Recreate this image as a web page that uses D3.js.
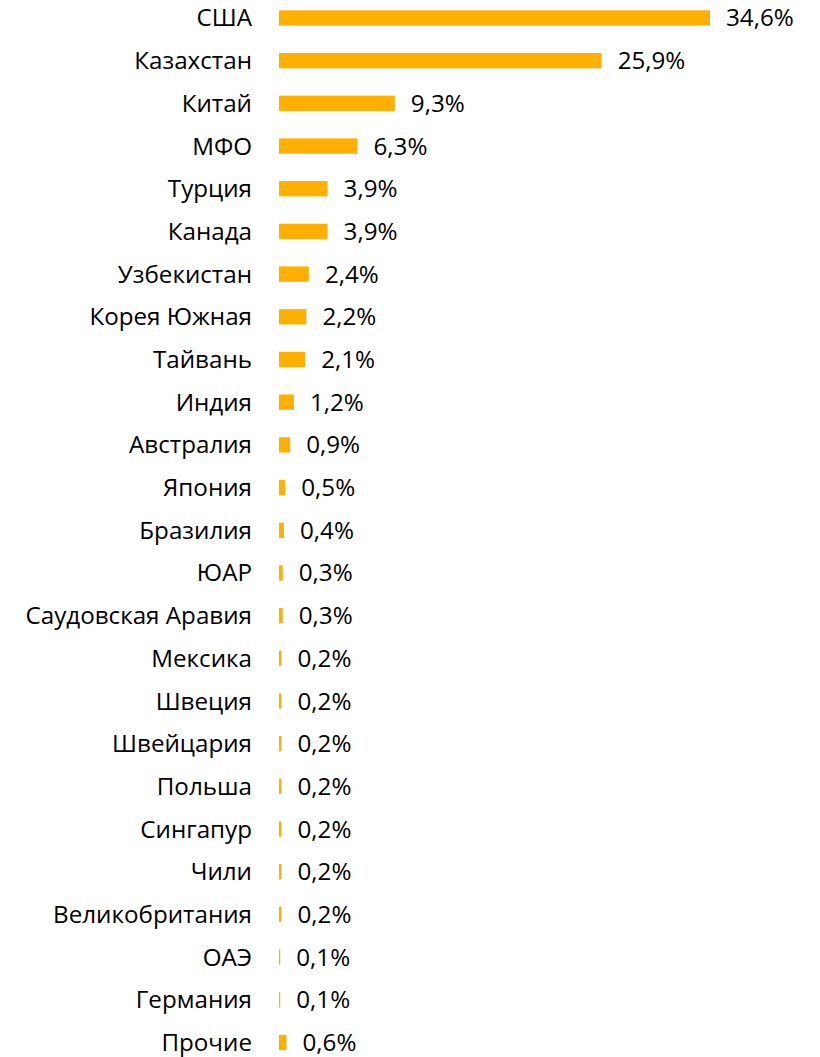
<!DOCTYPE html>
<html><head><meta charset="utf-8">
<script src="https://cdn.jsdelivr.net/npm/d3@7"></script>
<style>body{margin:0;background:#fff;} svg{display:block;}</style>
</head><body>
<script>
const categories = ["США","Казахстан","Китай","МФО","Турция","Канада","Узбекистан","Корея Южная","Тайвань","Индия","Австралия","Япония","Бразилия","ЮАР","Саудовская Аравия","Мексика","Швеция","Швейцария","Польша","Сингапур","Чили","Великобритания","ОАЭ","Германия","Прочие"];
const values = [34.6,25.9,9.3,6.3,3.9,3.9,2.4,2.2,2.1,1.2,0.9,0.5,0.4,0.3,0.3,0.2,0.2,0.2,0.2,0.2,0.2,0.2,0.1,0.1,0.6];
const labels = values.map(v => v.toFixed(1).replace(".", ",") + "%");

const W = 820, H = 1057;
const svg = d3.select("body").append("svg").attr("width", W).attr("height", H);
const y = d3.scaleBand().domain(categories).range([-3.35, 1063.85]).paddingInner(0.64).paddingOuter(0.32);
const x = d3.scaleLinear().domain([0, 34.6]).range([279, 710]);
const color = "#FFB000";
const font = "'Open Sans', sans-serif";
const fs = 24.2;

const data = categories.map((c, i) => ({c, v: values[i], l: labels[i]}));

svg.selectAll("rect.bar").data(data).join("rect")
  .attr("class", "bar")
  .attr("x", x(0))
  .attr("y", d => y(d.c))
  .attr("width", d => x(d.v) - x(0))
  .attr("height", y.bandwidth())
  .attr("fill", color);

svg.selectAll("text.cat").data(data).join("text")
  .attr("class", "cat")
  .attr("x", 252)
  .attr("y", d => y(d.c) + y.bandwidth() / 2 + 8.5)
  .attr("text-anchor", "end")
  .attr("font-family", font)
  .attr("font-size", fs)
  .attr("fill", "#000")
  .text(d => d.c);

svg.selectAll("text.val").data(data).join("text")
  .attr("class", "val")
  .attr("x", d => x(d.v) + 16)
  .attr("y", d => y(d.c) + y.bandwidth() / 2 + 8.5)
  .attr("font-family", font)
  .attr("font-size", fs)
  .attr("fill", "#000")
  .text(d => d.l);
</script>
</body></html>
